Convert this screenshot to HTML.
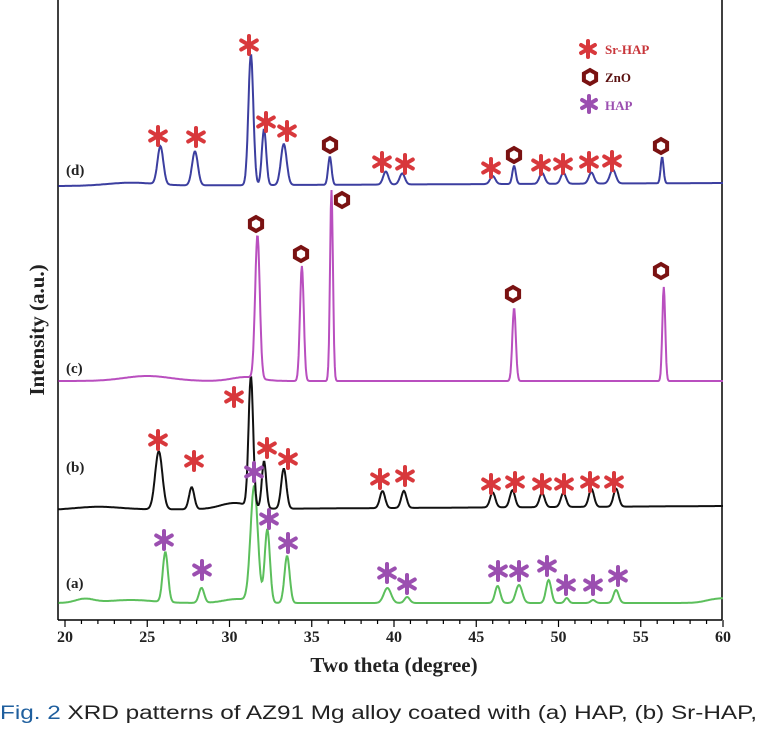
<!DOCTYPE html>
<html><head><meta charset="utf-8"><style>
body{margin:0;background:#fff;width:760px;height:733px;overflow:hidden}
svg{display:block}
</style></head><body>
<svg id="s" width="760" height="733" xmlns="http://www.w3.org/2000/svg" font-family="Liberation Serif, serif">
<g stroke="#000" stroke-width="1.5" fill="none">
<line x1="58" y1="0" x2="58" y2="620"/>
<line x1="722" y1="0" x2="722" y2="620"/>
<line x1="58" y1="620" x2="722" y2="620"/>
</g>
<g id="ticks" stroke="#000" stroke-width="1.2"></g>
<g id="tl" font-size="16" font-weight="bold" text-anchor="middle" fill="#222"></g>
<text x="394" y="672" font-size="21" font-weight="bold" text-anchor="middle" fill="#222">Two theta (degree)</text>
<text transform="translate(44,330) rotate(-90)" font-size="21" font-weight="bold" text-anchor="middle" fill="#222">Intensity (a.u.)</text>
<g font-size="15" font-weight="bold" fill="#222">
<text x="66" y="175">(d)</text><text x="66" y="373">(c)</text><text x="66" y="472">(b)</text><text x="66" y="588">(a)</text>
</g>
<g id="curves" fill="none" stroke-width="2"></g>
<g id="marks"></g>
<g font-size="13" font-weight="bold">
<text x="605" y="54" fill="#c8353a">Sr-HAP</text>
<text x="605" y="82" fill="#5a1010">ZnO</text>
<text x="605" y="110" fill="#9b4fb0">HAP</text>
</g>
<text x="0" y="719" font-family="Liberation Sans, sans-serif" font-size="19" fill="#222" textLength="757" lengthAdjust="spacingAndGlyphs"><tspan fill="#1f5f9e">Fig. 2</tspan>   XRD patterns of AZ91 Mg alloy coated with (a) HAP, (b) Sr-HAP,</text>
</svg>
<script>
const X=t=>394+(t-40)*16.45;
let tk="";
for(let t=20;t<=60;t++){const x=X(t);if(x<58)continue;const l=t%5==0?7:4;tk+=`<line x1="${x}" y1="620" x2="${x}" y2="${620+l}"/>`;}
document.getElementById('ticks').innerHTML=tk;
let tl="";[20,25,30,35,40,45,50,55,60].forEach(t=>tl+=`<text x="${X(t)}" y="642">${t}</text>`);
document.getElementById('tl').innerHTML=tl;
function curve(base,peaks,color,w,extra){
 let d="";
 for(let t=19.6;t<=60;t+=0.04){
  let y=base+(extra?extra(t):0);
  peaks.forEach(p=>{y-= (base-p[1])*Math.exp(-Math.pow((t-p[0])/((p[2]||0.18)*1.25),2));});
  d+=(d?"L":"M")+Math.max(58,X(t)).toFixed(1)+","+y.toFixed(1);
 }
 return `<path d="${d}" stroke="${color}"/>`;
}
let c="";
c+=curve(603,[[26.1,553],[28.3,588],[31.5,488,0.25],[32.3,530],[33.5,556],[39.6,588,0.25],[40.8,597],[46.3,586],[47.6,585,0.22],[49.4,580],[50.5,598,0.14],[52.1,600,0.16],[53.5,590]],"#5cbf5c",2,
 t=>-4*Math.exp(-Math.pow((t-21.2)/0.8,2))-3*Math.exp(-Math.pow((t-24)/2,2))-4*Math.exp(-Math.pow((t-30.5)/1.2,2))-5/(1+Math.exp(-(t-59)*3)));
c+=curve(510,[[25.7,452,0.25],[27.7,488],[31.3,380,0.16],[32.1,463,0.15],[33.3,470],[39.3,493],[40.6,493],[46.0,495],[47.2,493],[49.0,496],[50.3,496],[52.0,492],[53.5,492]],"#111",2,
 t=>-6*Math.exp(-Math.pow((t-30.3)/1.2,2))-3*Math.exp(-Math.pow((t-22)/2,2))-4*(t-20)/40);
c+=curve(381,[[31.7,238,0.16],[34.4,266,0.13],[36.2,190,0.1],[47.3,308,0.12],[56.4,287,0.1]],"#b94fbf",2,
 t=>-5*Math.exp(-Math.pow((t-25)/2,2))-4*Math.exp(-Math.pow((t-31)/1.2,2)));
c+=curve(186,[[25.8,148,0.2],[27.9,152,0.2],[31.3,55,0.17],[32.1,130,0.15],[33.3,145,0.2],[36.1,158,0.12],[39.5,173],[40.5,175],[46.0,178],[47.3,168,0.12],[49.0,175],[50.3,175],[52.0,175],[53.3,172,0.2],[56.3,160,0.1]],"#3c3fa0",1.8,
 t=>-3*Math.exp(-Math.pow((t-24)/2,2))-3*(t-20)/40);
document.getElementById('curves').innerHTML=c;
function star(x,y,col,r){let s=`<g stroke="${col}" stroke-width="4" stroke-linecap="round">`;
 for(let a=0;a<3;a++){const th=Math.PI/2+a*Math.PI/3;s+=`<line x1="${x+r*Math.cos(th)}" y1="${y+r*Math.sin(th)}" x2="${x-r*Math.cos(th)}" y2="${y-r*Math.sin(th)}"/>`;}
 return s+"</g>";}
function hex(x,y){let p=[];for(let a=0;a<6;a++){const th=Math.PI/6+a*Math.PI/3;p.push((x+7*Math.cos(th)).toFixed(1)+","+(y+7*Math.sin(th)).toFixed(1));}
 return `<polygon points="${p.join(" ")}" fill="none" stroke="#7a1212" stroke-width="4"/>`;}
const R="#d8383c",P="#9b4fb0";let m="";
[[158,136],[196,137],[249,45],[266,122],[287,131],[382,162],[405,164],[491,168],[541,165],[563,164],[589,162],[612,161]].forEach(p=>m+=star(p[0],p[1],R,9));
[[158,440],[194,461],[234,397],[267,448],[288,459],[380,479],[405,476],[491,484],[515,482],[542,484],[564,484],[590,482],[614,482]].forEach(p=>m+=star(p[0],p[1],R,9));
[[164,540],[202,570],[254,472],[269,519],[288,543],[387,573],[407,584],[498,571],[519,571],[547,566],[566,585],[593,585],[618,576]].forEach(p=>m+=star(p[0],p[1],P,9));
[[330,145],[514,155],[661,146],[256,224],[301,254],[342,200],[513,294],[661,271]].forEach(p=>m+=hex(p[0],p[1]));
m+=star(588,49,R,8)+hex(590,77)+star(589,104,P,8);
document.getElementById('marks').innerHTML=m;
</script>
</body></html>
